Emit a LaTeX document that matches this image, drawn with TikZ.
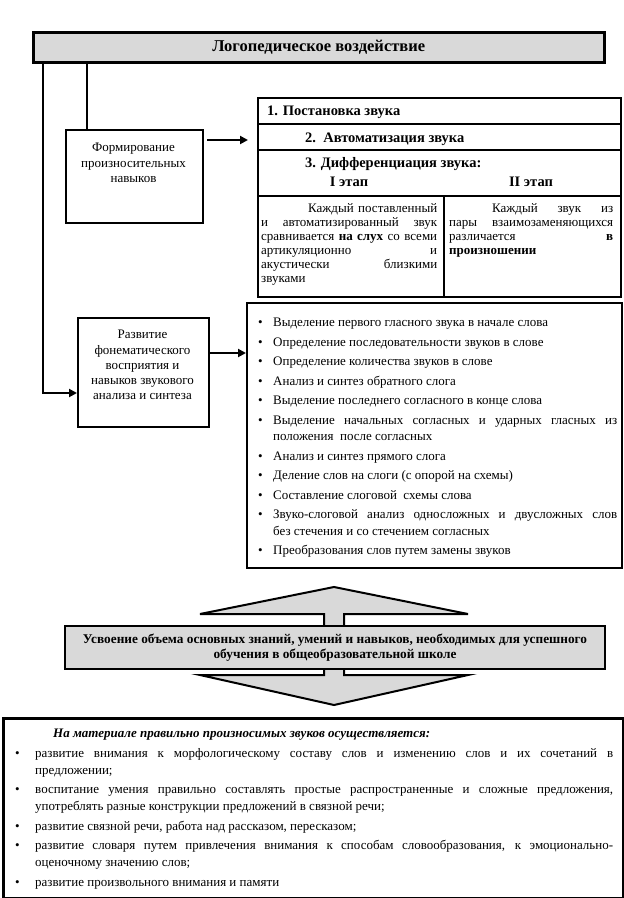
\documentclass[tikz,border=0pt]{standalone}
\usepackage{fontspec}
\setmainfont{Liberation Serif}
\usetikzlibrary{arrows.meta}
\definecolor{boxgray}{HTML}{D9D9D9}
\newcommand\bitem[2]{\par\noindent\hangindent=#1\relax\hangafter=1\relax\makebox[#1][l]{\textbullet}#2\par}
\begin{document}
\begin{tikzpicture}[x=1pt,y=-1pt,
  bx/.style={draw, line width=2pt, inner sep=0pt, anchor=north west},
  arr/.style={line width=2.5pt, -{Triangle[length=8pt,width=8pt]}},
  ln/.style={line width=2.5pt},
  txt/.style={inner sep=0pt, font=\fontsize{13}{15.3}\selectfont},
  btxt/.style={inner sep=0pt, font=\fontsize{14.5}{16}\selectfont\bfseries}]
\useasboundingbox (0,0) rectangle (624,898);
\fill[white] (0,0) rectangle (624,898);

% header
\node[bx, fill=boxgray, line width=2.5pt, minimum width=571pt, minimum height=30pt] (hdr) at (32,31) {};
\node[inner sep=0pt, font=\fontsize{16.5}{18}\selectfont\bfseries] (hdrt) at (hdr.center) {Логопедическое воздействие};

% left boxes
\node[bx, minimum width=137pt, minimum height=93pt] (form) at (65,129) {};
\node[txt, anchor=north, align=center] (formt) at (133.5,143) {Формирование\\произносительных\\навыков};
\node[bx, minimum width=131pt, minimum height=109pt] (razv) at (77,317) {};
\node[txt, anchor=north, align=center] (razvt) at (142.5,330) {Развитие\\фонематического\\восприятия и\\навыков звукового\\анализа и синтеза};

% table
\node[bx, minimum width=363pt, minimum height=26pt] (t1) at (257,97) {};
\node[bx, minimum width=363pt, minimum height=26pt] (t2) at (257,123) {};
\node[bx, minimum width=363pt, minimum height=46pt] (t3) at (257,149) {};
\node[bx, minimum width=186pt, minimum height=101pt] (t4a) at (257,195) {};
\node[bx, minimum width=177pt, minimum height=101pt] (t4b) at (443,195) {};
\node[btxt, anchor=base west] (t1t) at (267,115) {1. Постановка звука};
\node[btxt, anchor=base west] (t2t) at (305,142) {2.\ \ Автоматизация звука};
\node[btxt, anchor=base west] (t3t) at (305,167) {3. Дифференциация звука:};
\node[btxt, anchor=base] (t3a) at (349,186) {I этап};
\node[btxt, anchor=base] (t3b) at (531,186) {II этап};
\node[inner sep=0pt, anchor=north west, text width=176pt, align=justify, font=\fontsize{13}{14}\selectfont] (t4at) at (261,203)
 {\hspace*{47pt}Каждый поставленный\linebreak и автоматизированный звук\linebreak сравнивается \textbf{на слух} со всеми\linebreak артикуляционно и\linebreak акустически близкими\linebreak звуками};
\node[inner sep=0pt, anchor=north west, text width=164pt, align=justify, font=\fontsize{13}{14}\selectfont] (t4bt) at (449,203)
 {\hspace*{43pt}Каждый звук из\linebreak пары взаимозаменяющихся\linebreak различается \textbf{в}\linebreak \textbf{произношении}};

% bullet list box
\node[bx, minimum width=375pt, minimum height=265pt] (list) at (246,302) {};
\node[inner sep=0pt, anchor=north west, text width=359pt, align=justify, font=\fontsize{13}{16.5}\selectfont] (listt) at (258,307)
 {\hyphenpenalty=10000\setlength\parskip{3pt}%
 \bitem{15pt}{Выделение первого гласного звука в начале слова}
 \bitem{15pt}{Определение последовательности звуков в слове}
 \bitem{15pt}{Определение количества звуков в слове}
 \bitem{15pt}{Анализ и синтез обратного слога}
 \bitem{15pt}{Выделение последнего согласного в конце слова}
 \bitem{15pt}{Выделение начальных согласных и ударных гласных из\linebreak положения\ \ после согласных}
 \bitem{15pt}{Анализ и синтез прямого слога}
 \bitem{15pt}{Деление слов на слоги (с опорой на схемы)}
 \bitem{15pt}{Составление слоговой\ \ схемы слова}
 \bitem{15pt}{Звуко-слоговой анализ односложных и двусложных слов\linebreak без стечения и со стечением согласных}
 \bitem{15pt}{Преобразования слов путем замены звуков}};

% connectors
\coordinate (c0) at (43,0);
\coordinate (c1) at (87,0);
\coordinate (c2) at (0,393);
\coordinate (c3) at (0,140);
\coordinate (c4) at (0,353);
\draw[ln] (hdr.south -| c1) -- (form.north -| c1);
\draw[arr] (hdr.south -| c0) |- (razv.west |- c2);
\draw[arr] ([xshift=3pt]form.east |- c3) -- ([xshift=-9pt]t1.west |- c3);
\draw[arr] (razv.east |- c4) -- (list.west |- c4);

% double arrow
\draw[line width=2pt, fill=boxgray, line join=miter] (324,626) -- (324,614) -- (200,614) -- (334,587) -- (468,614) -- (344,614) -- (344,626);
\draw[line width=2pt, fill=boxgray, line join=miter] (324,667) -- (324,675) -- (200,675) -- (334,705) -- (468,675) -- (344,675) -- (344,667);
\node[bx, fill=boxgray, minimum width=540pt, minimum height=43pt] (mid) at (64,625) {};
\node[inner sep=0pt, align=center, font=\fontsize{13.3}{15.5}\selectfont\bfseries] (midt) at (mid.center)
 {Усвоение объема основных знаний, умений и навыков, необходимых для успешного\\обучения в общеобразовательной школе};

% bottom box
\node[bx, line width=2.5pt, minimum width=620pt, minimum height=180pt] (bot) at (2,717) {};
\node[inner sep=0pt, anchor=north west, text width=598pt, align=justify, font=\fontsize{13}{17}\selectfont] (bott) at (15,729)
 {\hyphenpenalty=10000\setlength\parskip{2.5pt}%
 \noindent\hspace*{38pt}\textbf{\textit{На материале правильно произносимых звуков осуществляется:}}\par
 \bitem{20pt}{развитие внимания к морфологическому составу слов и изменению слов и их сочетаний в\linebreak предложении;}
 \bitem{20pt}{воспитание умения правильно составлять простые распространенные и сложные предложения,\linebreak употреблять разные конструкции предложений в связной речи;}
 \bitem{20pt}{развитие связной речи, работа над рассказом, пересказом;}
 \bitem{20pt}{развитие словаря путем привлечения внимания к способам словообразования, к эмоционально-\linebreak оценочному значению слов;}
 \bitem{20pt}{развитие произвольного внимания и памяти}};
\end{tikzpicture}
\end{document}
